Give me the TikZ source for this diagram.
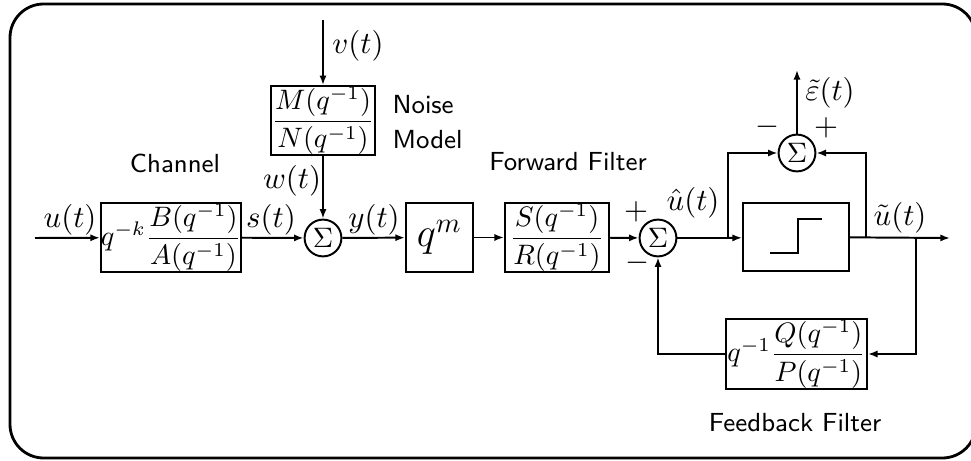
\documentclass[tikz,border=0pt]{standalone}
\usepackage{amsmath,amssymb}
\usepackage{tikz}
\usetikzlibrary{positioning, arrows.meta}

\begin{document}
\begin{tikzpicture}[
  x=0.0125cm, y=-0.0125cm,
  font=\fontsize{10}{12}\selectfont,
  block/.style={draw, line width=0.7pt, inner sep=0pt, minimum height=0.86cm},
  sumnode/.style={circle, draw, line width=0.7pt, inner sep=0pt, minimum size=0.46cm},
  sig/.style={inner sep=0pt, font=\fontsize{11}{13}\selectfont},
  sgn/.style={inner sep=0pt, font=\fontsize{11}{13}\selectfont},
  blocklabel/.style={font=\sffamily\fontsize{9.3}{12.5}\selectfont, inner sep=0pt},
  wire/.style={line width=0.7pt, -{Latex[length=1.2mm, width=0.9mm]}},
  plain/.style={line width=0.7pt},
]
  \useasboundingbox (0,0) rectangle (971,461);

  % Outer frame
  \draw[line width=1pt, rounded corners=0.42cm] (10,4) rectangle (976,458);

  % Blocks
  \node[block, minimum width=1.29cm]  (noise) at (323,120.5) {$\dfrac{M(q^{-1})}{N(q^{-1})}$};
  \node[block, minimum width=1.725cm] (chan)  at (171,237.5) {$q^{-k}\dfrac{B(q^{-1})}{A(q^{-1})}$};
  \node[sumnode] (sum1) at (323,238) {$\Sigma$};
  \node[block, minimum width=0.84cm]  (delay) at (439.5,237.5) {\Large$q^m$};
  \node[block, minimum width=1.30cm]  (fwd)   at (557,237.5) {$\dfrac{S(q^{-1})}{R(q^{-1})}$};
  \node[sumnode] (sum2) at (658,238) {$\Sigma$};
  \node[block, minimum width=1.325cm, minimum height=0.85cm] (quant) at (796,237) {};
  \node[sumnode] (sum3) at (797,153) {$\Sigma$};
  \node[block, minimum width=1.76cm, minimum height=0.875cm] (fb) at (796.5,354) {$q^{-1}\dfrac{Q(q^{-1})}{P(q^{-1})}$};

  % Quantizer step
  \draw[line width=0.8pt] ([shift={(-26,16)}]quant.center) -- ++(28,0) -- ++(0,-34) -- ++(24,0);

  % Free ends and branch points
  \coordinate (vin)   at (323,20);
  \coordinate (uin)   at (35,238);
  \coordinate (split) at (728,238);
  \coordinate (tap)   at (866,238);
  \coordinate (fbtap) at (916,238);
  \coordinate (uout)  at (950,238);
  \coordinate (eout)  at (797,70);

  % Connectors
  \draw[wire] (vin) -- (noise);
  \draw[wire] (noise) -- (sum1);
  \draw[wire] (uin) -- (chan);
  \draw[wire] (chan) -- (sum1);
  \draw[wire] (sum1) -- (delay);
  \draw[wire] (delay) -- (fwd);
  \draw[wire] (fwd) -- (sum2);
  \draw[plain] (sum2) -- (split);
  \draw[wire] (split) -- (quant);
  \draw[wire] (split) |- (sum3);
  \draw[wire] (quant) -- (uout);
  \draw[wire] (tap) |- (sum3);
  \draw[wire] (sum3) -- (eout);
  \draw[wire] (fbtap) |- (fb);
  \draw[wire] (fb) -| (sum2);

  % Signal labels
  \node[sig] (vlbl) at (358,46)  {$v(t)$};
  \node[sig] (wlbl) at (292,181) {$w(t)$};
  \node[sig] (ulbl) at (70,220)  {$u(t)$};
  \node[sig] (slbl) at (271,220) {$s(t)$};
  \node[sig] (ylbl) at (374,220) {$y(t)$};
  \node[sig] (uhat) at (693,203) {$\hat{u}(t)$};
  \node[sig] (util) at (900,218) {$\tilde{u}(t)$};
  \node[sig] (etil) at (830,93)  {$\tilde{\varepsilon}(t)$};

  % Signs at the summing junctions
  \foreach \name/\x/\y/\s in {p2/636/212/+, m2/637/263/-, m3/767/127/-, p3/826/128/+}
    \node[sgn] (sgn\name) at (\x,\y) {$\s$};

  % Block captions
  \node[blocklabel, align=left, anchor=west] (noisecap) at (392,122) {Noise\\Model};
  \node[blocklabel] (chancap) at (175,163) {Channel};
  \node[blocklabel] (fwdcap)  at (568,162) {Forward Filter};
  \node[blocklabel] (fbcap)   at (795,423) {Feedback Filter};
\end{tikzpicture}
\end{document}
